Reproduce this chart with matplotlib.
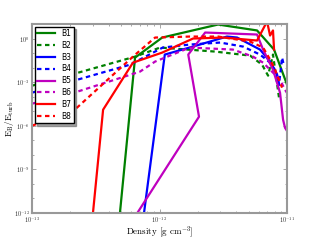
import matplotlib
matplotlib.use("Agg")
import matplotlib.pyplot as plt
import matplotlib.ticker as mticker
from matplotlib.font_manager import FontProperties

plt.rcParams['font.family'] = 'serif'
plt.rcParams['font.serif'] = ['cmr10']
plt.rcParams['mathtext.fontset'] = 'cm'
plt.rcParams['axes.formatter.use_mathtext'] = True

labels = ["B1", "B2", "B3", "B4", "B5", "B6", "B7", "B8"]
colors = ["#008000", "#008000", "#0000ff", "#0000ff", "#bf00bf", "#bf00bf", "#ff0000", "#ff0000"]
dashed = [False, True, False, True, False, True, False, True]

b1_x = [4.77e-13, 6.43e-13, 1.05e-12, 2.88e-12, 5.82e-12, 7.91e-12, 1.02e-11]
b1_y = [1e-13, 0.049, 1.17, 9.2, 3.6, 0.174, 4.2e-4]

b2_x = [1e-13, 6.43e-13, 1.01e-12, 2.72e-12, 5.13e-12, 6.37e-12, 7.10e-12, 7.76e-12, 8.65e-12]
b2_y = [5.7e-4, 0.057, 0.24, 0.127, 0.067, 0.016, 2.8e-3, 0.079, 8.5e-5]

b3_x = [7.30e-13, 1.10e-12, 1.83e-12, 3.38e-12, 4.06e-12, 6.14e-12, 7.36e-12, 8.36e-12, 8.65e-12]
b3_y = [1e-13, 0.079, 0.28, 1.37, 1.17, 0.174, 0.026, 3.3e-3, 6.7e-4]

b4_x = [1e-13, 5.88e-13, 1.06e-12, 1.73e-12, 2.99e-12, 4.52e-12, 6.14e-12, 7.36e-12, 8.21e-12, 8.65e-12, 9.14e-12, 9.46e-12]
b4_y = [1.89e-4, 0.016, 0.24, 0.386, 0.53, 0.28, 0.079, 0.022, 5.3e-3, 6.7e-4, 0.049, 0.0137]

b5_x = [5.66e-13, 2.04e-12, 1.68e-12, 2.28e-12, 5.82e-12, 6.49e-12, 7.76e-12, 8.81e-12, 9.31e-12, 9.64e-12, 1.02e-11]
b5_y = [1e-13, 4.2e-6, 0.079, 2.59, 1.89, 0.174, 7.3e-3, 1.89e-4, 2.6e-6, 7.3e-7, 3.3e-7]

b6_x = [1e-13, 1.91e-13, 7.03e-13, 9.23e-13, 1.73e-12, 3.76e-12, 5.41e-12, 6.49e-12, 7.62e-12, 8.81e-12, 9.64e-12, 1.02e-11]
b6_y = [3.3e-5, 1.37e-4, 5.3e-3, 0.026, 0.24, 0.174, 0.057, 0.022, 5.3e-3, 1.49e-3, 3.0e-4, 1.37e-4]

b7_x = [2.93e-13, 3.61e-13, 6.19e-13, 1.05e-12, 1.83e-12, 3.15e-12, 5.82e-12, 6.97e-12, 7.36e-12, 7.76e-12, 7.91e-12]
b7_y = [1e-13, 1.27e-5, 0.022, 0.108, 1.0, 1.17, 0.73, 14.9, 1.61, 3.6, 0.174]

b8_x = [1e-13, 2.25e-13, 6.19e-13, 9.23e-13, 1.73e-12, 2.88e-12, 5.13e-12, 6.49e-12, 7.36e-12, 8.05e-12, 8.81e-12, 9.14e-12]
b8_y = [1e-6, 1.74e-5, 0.057, 1.17, 1.37, 1.37, 0.62, 0.24, 0.036, 7.3e-3, 9.2e-4, 4.2e-4]

x_ticks = [1e-13, 1e-12, 1e-11]
y_ticks = [1e-12, 1e-9, 1e-6, 1e-3, 1e0]

xs = [b1_x, b2_x, b3_x, b4_x, b5_x, b6_x, b7_x, b8_x]
ys = [b1_y, b2_y, b3_y, b4_y, b5_y, b6_y, b7_y, b8_y]

fig = plt.figure(figsize=(3.2, 2.4), dpi=100)
ax = fig.add_axes([0.1, 0.1125, 0.797, 0.7875])

for x, y, lab, c, d in zip(xs, ys, labels, colors, dashed):
    ls = (0, (2.0, 1.6)) if d else '-'
    ax.plot(x, y, color=c, lw=1.6, linestyle=ls, label=lab)

ax.set_xscale('log')
ax.set_yscale('log')
ax.set_xlim(1e-13, 1e-11)
ax.set_ylim(1e-12, 1e1)
ax.xaxis.set_major_locator(mticker.FixedLocator(x_ticks))
ax.yaxis.set_major_locator(mticker.FixedLocator(y_ticks))
ax.yaxis.set_minor_locator(mticker.FixedLocator([10.0 ** k for k in range(-12, 2)]))
ax.yaxis.set_minor_formatter(mticker.NullFormatter())
ax.xaxis.set_minor_formatter(mticker.NullFormatter())

gray = '#999999'
for s in ax.spines.values():
    s.set_color(gray)
    s.set_linewidth(1.5)
ax.tick_params(which='both', direction='in', top=True, right=True, labelcolor='#333333', labelsize=4.5, pad=1.5)
ax.tick_params(which='major', length=3, color=gray, width=0.6)
ax.tick_params(which='minor', length=1.5, color=gray, width=0.6)

ax.set_xlabel(r'Density [g cm$^{-3}$]', fontsize=6.5)
ax.set_ylabel(r'$\mathrm{E_B/E_{turb}}$', fontsize=6.5)
ax.xaxis.set_label_coords(0.5, -0.06)
ax.yaxis.set_label_coords(-0.062, 0.5)

leg = ax.legend(loc='upper left', prop=FontProperties(family='DejaVu Sans', size=5.5),
                frameon=True, shadow=True, fancybox=False, handlelength=2.3,
                borderpad=0.3, labelspacing=0.37, handletextpad=0.9,
                borderaxespad=0.35)
leg.get_frame().set_edgecolor('black')
leg.get_frame().set_linewidth(1.0)

fig.savefig('out.png', dpi=100)
